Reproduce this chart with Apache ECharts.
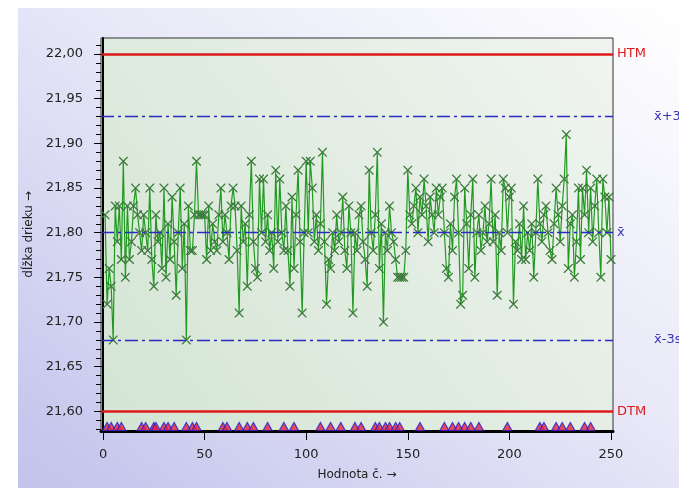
<!DOCTYPE html>
<html>
<head>
<meta charset="utf-8">
<script src="https://cdn.jsdelivr.net/npm/echarts@6/dist/echarts.min.js"></script>
<style>
  html, body { margin: 0; padding: 0; background: #fff; }
  #wrap { position: relative; width: 679px; height: 488px; }
  #panel { position: absolute; left: 18px; top: 8px; right: 0; bottom: 0;
    background: linear-gradient(to bottom left, #ffffff 0%, #e8e8f8 45%, #c2c2ec 100%); }
  #chart { position: absolute; left: 0; top: 0; width: 679px; height: 488px; }
</style>
</head>
<body>
<div id="wrap"><div id="panel"></div><div id="chart"></div></div>
<script>
// naměřené hodnoty, bod č. 1..250
const values = [
  21.82, 21.72, 21.76, 21.74, 21.68, 21.83, 21.79, 21.83, 21.77, 21.88,
  21.75, 21.83, 21.77, 21.79, 21.83, 21.85, 21.82, 21.80, 21.78, 21.82,
  21.80, 21.78, 21.85, 21.77, 21.74, 21.82, 21.79, 21.80, 21.76, 21.85,
  21.75, 21.81, 21.77, 21.84, 21.79, 21.73, 21.80, 21.85, 21.76, 21.81,
  21.68, 21.83, 21.78, 21.78, 21.82, 21.88, 21.82, 21.82, 21.82, 21.82,
  21.77, 21.83, 21.78, 21.81, 21.79, 21.78, 21.82, 21.85, 21.79, 21.82,
  21.80, 21.77, 21.83, 21.85, 21.83, 21.78, 21.71, 21.83, 21.79, 21.81,
  21.74, 21.82, 21.88, 21.79, 21.76, 21.75, 21.86, 21.80, 21.86, 21.79,
  21.82, 21.78, 21.80, 21.76, 21.87, 21.79, 21.86, 21.80, 21.78, 21.83,
  21.78, 21.74, 21.84, 21.76, 21.82, 21.87, 21.79, 21.71, 21.80, 21.88,
  21.80, 21.88, 21.85, 21.79, 21.82, 21.78, 21.81, 21.89, 21.79, 21.72,
  21.77, 21.76, 21.80, 21.78, 21.82, 21.79, 21.80, 21.84, 21.78, 21.76,
  21.83, 21.80, 21.71, 21.80, 21.78, 21.82, 21.83, 21.79, 21.77, 21.74,
  21.87, 21.80, 21.78, 21.82, 21.89, 21.76, 21.81, 21.70, 21.80, 21.78,
  21.83, 21.80, 21.79, 21.77, 21.75, 21.75, 21.75, 21.75, 21.78, 21.87,
  21.82, 21.81, 21.83, 21.85, 21.80, 21.84, 21.82, 21.86, 21.83, 21.79,
  21.84, 21.82, 21.80, 21.85, 21.82, 21.84, 21.85, 21.80, 21.76, 21.75,
  21.81, 21.78, 21.84, 21.86, 21.80, 21.72, 21.73, 21.85, 21.81, 21.76,
  21.82, 21.86, 21.75, 21.80, 21.82, 21.78, 21.80, 21.83, 21.79, 21.81,
  21.86, 21.79, 21.82, 21.73, 21.80, 21.78, 21.86, 21.85, 21.80, 21.84,
  21.85, 21.72, 21.79, 21.78, 21.81, 21.77, 21.83, 21.77, 21.80, 21.78,
  21.81, 21.75, 21.80, 21.86, 21.81, 21.79, 21.82, 21.83, 21.80, 21.78,
  21.77, 21.81, 21.85, 21.82, 21.79, 21.83, 21.86, 21.91, 21.76, 21.81,
  21.82, 21.75, 21.79, 21.85, 21.77, 21.85, 21.82, 21.87, 21.80, 21.85,
  21.79, 21.83, 21.86, 21.80, 21.75, 21.86, 21.84, 21.80, 21.84, 21.77
]
// body označené trojúhelníkem dole
const flagX = [2, 4, 7, 9, 19, 21, 25, 26, 30, 32, 35, 41, 44, 46, 59, 61, 67, 71, 74, 81,
  89, 94, 107, 112, 117, 124, 127, 134, 136, 139, 141, 144, 146, 156, 168, 172, 175, 178,
  181, 185, 199, 215, 217, 223, 226, 230, 237, 240]
// meze
const limitValues = [22.00, 21.928, 21.803, 21.677, 21.60]
const limitLabels = ["HTM", "x\u0304+3s", "x\u0304", "x\u0304-3s", "DTM"]
const yTicks = [21.60, 21.65, 21.70, 21.75, 21.80, 21.85, 21.90, 21.95, 22.00]
const xTicks = [0, 50, 100, 150, 200, 250]

const yMin = 21.578, yMax = 22.018
let yMinor = []
for (let k = 0; k <= 43; k++) yMinor.push(+(21.58 + k * 0.01).toFixed(2))

const font = "DejaVu Sans"
const red = "#dd1a1a"
const blue = "#2a2ac4"

const markData = limitValues.map((v, i) => {
  const isSpec = i === 0 || i === 4
  return {
    yAxis: v,
    lineStyle: isSpec
      ? { color: red, width: 2.5, type: "solid" }
      : { color: blue, width: 1.3, type: [13, 4, 3, 4] },
    label: {
      show: true,
      position: "end",
      formatter: limitLabels[i],
      color: isSpec ? red : "#3434b8",
      fontFamily: font,
      fontSize: 13,
      distance: isSpec || i === 2 ? 4 : 41
    }
  }
})

const option = {
  animation: false,
  backgroundColor: "transparent",
  grid: {
    left: 101, right: 66, top: 38, bottom: 57,
    show: true,
    borderColor: "#333",
    borderWidth: 1,
    backgroundColor: new echarts.graphic.LinearGradient(1, 0, 0, 1, [
      { offset: 0, color: "#f0f4f0" },
      { offset: 1, color: "#d3e5d3" }
    ]),
    outerBoundsMode: "none"
  },
  xAxis: {
    type: "value", min: -1, max: 251,
    axisLine: { show: true, lineStyle: { color: "#000", width: 3 } },
    axisTick: { show: true, length: 9, customValues: xTicks, lineStyle: { color: "#000" } },
    axisLabel: { customValues: xTicks, color: "#222", fontFamily: font, fontSize: 13, margin: 17 },
    splitLine: { show: false },
    name: "Hodnota č. →",
    nameLocation: "middle",
    nameGap: 38,
    nameTextStyle: { color: "#222", fontFamily: font, fontSize: 12 }
  },
  yAxis: [
    {
      type: "value", min: yMin, max: yMax, position: "left",
      axisLine: { show: true, lineStyle: { color: "#000", width: 2 } },
      axisTick: { show: true, length: 9, customValues: yTicks, lineStyle: { color: "#000" } },
      axisLabel: {
        customValues: yTicks, color: "#222", fontFamily: font, fontSize: 13, margin: 18,
        formatter: v => v.toFixed(2).replace(".", ",")
      },
      splitLine: { show: false },
      name: "dĺžka drieku →",
      nameLocation: "middle",
      nameGap: 53,
      nameTextStyle: { color: "#222", fontFamily: font, fontSize: 12 }
    },
    {
      type: "value", min: yMin, max: yMax, position: "left",
      axisLine: { show: false },
      axisTick: { show: true, length: 5, customValues: yMinor, lineStyle: { color: "#000" } },
      axisLabel: { show: false },
      splitLine: { show: false }
    }
  ],
  series: [
    {
      type: "line",
      data: values.map((v, i) => [i + 1, v]),
      symbol: "path://M0,0L1,0L5,4L9,0L10,0L10,1L6,5L10,9L10,10L9,10L5,6L1,10L0,10L0,9L4,5L0,1Z",
      symbolSize: 9,
      showAllSymbol: true,
      lineStyle: { color: "#229a22", width: 1.2 },
      itemStyle: { color: "#3a7a3a" },
      z: 3,
      markLine: {
        silent: true,
        symbol: ["none", "none"],
        animation: false,
        data: markData
      }
    },
    {
      type: "scatter",
      data: flagX.map(x => [x, 21.583]),
      symbol: "triangle",
      symbolSize: [9, 8],
      itemStyle: { color: "#e4203c", borderColor: "#2a1fd0", borderWidth: 1.2 },
      z: 4
    }
  ]
}

const myChart = echarts.init(document.getElementById("chart"))
myChart.setOption(option)
</script>
</body>
</html>
